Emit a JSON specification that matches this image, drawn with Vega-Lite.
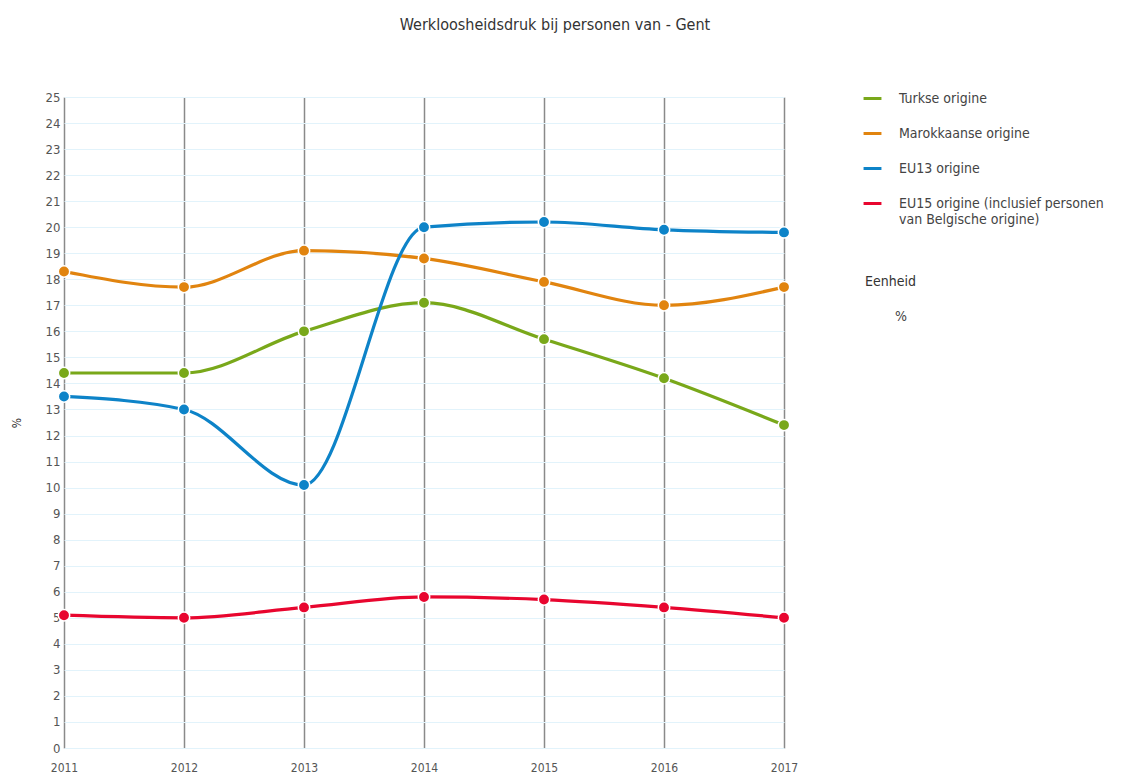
{
  "$schema": "https://vega.github.io/schema/vega-lite/v6.json",
  "width": 720,
  "height": 651,
  "autosize": "none",
  "padding": {"left": 64, "top": 97, "right": 344, "bottom": 27},
  "background": "white",
  "title": {
    "text": "Werkloosheidsdruk bij personen van - Gent",
    "font": "DejaVu Sans Condensed, Roboto, sans-serif",
    "fontSize": 16,
    "fontWeight": "normal",
    "color": "#333333",
    "anchor": "middle",
    "dx": 131,
    "offset": 55
  },
  "config": {
    "view": {"stroke": null},
    "font": "DejaVu Sans Condensed, Roboto, sans-serif",
    "axis": {"labelFont": "DejaVu Sans Condensed, Roboto, sans-serif", "labelColor": "#555555", "titleFont": "DejaVu Sans Condensed, Roboto, sans-serif"},
    "legend": {"labelFont": "DejaVu Sans Condensed, Roboto, sans-serif", "titleFont": "DejaVu Sans Condensed, Roboto, sans-serif"}
  },
  "data": {
    "values": [
      {"jaar": 2011, "reeks": "Turkse origine", "waarde": 14.4, "eenheid": "%"},
      {"jaar": 2012, "reeks": "Turkse origine", "waarde": 14.4, "eenheid": "%"},
      {"jaar": 2013, "reeks": "Turkse origine", "waarde": 16.0, "eenheid": "%"},
      {"jaar": 2014, "reeks": "Turkse origine", "waarde": 17.1, "eenheid": "%"},
      {"jaar": 2015, "reeks": "Turkse origine", "waarde": 15.7, "eenheid": "%"},
      {"jaar": 2016, "reeks": "Turkse origine", "waarde": 14.2, "eenheid": "%"},
      {"jaar": 2017, "reeks": "Turkse origine", "waarde": 12.4, "eenheid": "%"},
      {"jaar": 2011, "reeks": "Marokkaanse origine", "waarde": 18.3, "eenheid": "%"},
      {"jaar": 2012, "reeks": "Marokkaanse origine", "waarde": 17.7, "eenheid": "%"},
      {"jaar": 2013, "reeks": "Marokkaanse origine", "waarde": 19.1, "eenheid": "%"},
      {"jaar": 2014, "reeks": "Marokkaanse origine", "waarde": 18.8, "eenheid": "%"},
      {"jaar": 2015, "reeks": "Marokkaanse origine", "waarde": 17.9, "eenheid": "%"},
      {"jaar": 2016, "reeks": "Marokkaanse origine", "waarde": 17.0, "eenheid": "%"},
      {"jaar": 2017, "reeks": "Marokkaanse origine", "waarde": 17.7, "eenheid": "%"},
      {"jaar": 2011, "reeks": "EU13 origine", "waarde": 13.5, "eenheid": "%"},
      {"jaar": 2012, "reeks": "EU13 origine", "waarde": 13.0, "eenheid": "%"},
      {"jaar": 2013, "reeks": "EU13 origine", "waarde": 10.1, "eenheid": "%"},
      {"jaar": 2014, "reeks": "EU13 origine", "waarde": 20.0, "eenheid": "%"},
      {"jaar": 2015, "reeks": "EU13 origine", "waarde": 20.2, "eenheid": "%"},
      {"jaar": 2016, "reeks": "EU13 origine", "waarde": 19.9, "eenheid": "%"},
      {"jaar": 2017, "reeks": "EU13 origine", "waarde": 19.8, "eenheid": "%"},
      {"jaar": 2011, "reeks": "EU15 origine (inclusief personen van Belgische origine)", "waarde": 5.1, "eenheid": "%"},
      {"jaar": 2012, "reeks": "EU15 origine (inclusief personen van Belgische origine)", "waarde": 5.0, "eenheid": "%"},
      {"jaar": 2013, "reeks": "EU15 origine (inclusief personen van Belgische origine)", "waarde": 5.4, "eenheid": "%"},
      {"jaar": 2014, "reeks": "EU15 origine (inclusief personen van Belgische origine)", "waarde": 5.8, "eenheid": "%"},
      {"jaar": 2015, "reeks": "EU15 origine (inclusief personen van Belgische origine)", "waarde": 5.7, "eenheid": "%"},
      {"jaar": 2016, "reeks": "EU15 origine (inclusief personen van Belgische origine)", "waarde": 5.4, "eenheid": "%"},
      {"jaar": 2017, "reeks": "EU15 origine (inclusief personen van Belgische origine)", "waarde": 5.0, "eenheid": "%"}
    ]
  },
  "encoding": {
    "x": {
      "field": "jaar",
      "type": "quantitative",
      "scale": {"domain": [2011, 2017], "nice": false, "zero": false},
      "axis": {
        "title": null,
        "values": [2011, 2012, 2013, 2014, 2015, 2016, 2017],
        "format": "d",
        "grid": true,
        "gridColor": "#8a8a8a",
        "gridWidth": 1.5,
        "gridOpacity": 1,
        "domain": false,
        "ticks": false,
        "labelFontSize": 12,
        "labelPadding": 14,
        "labelFlush": false
      }
    },
    "y": {
      "field": "waarde",
      "type": "quantitative",
      "scale": {"domain": [0, 25], "nice": false},
      "axis": {
        "title": "%",
        "titleFontSize": 12,
        "titleFontWeight": "normal",
        "titleColor": "#333333",
        "titlePadding": 22,
        "values": [0,1,2,3,4,5,6,7,8,9,10,11,12,13,14,15,16,17,18,19,20,21,22,23,24,25],
        "grid": true,
        "gridColor": "#e2f3fb",
        "gridWidth": 1.2,
        "domain": false,
        "ticks": false,
        "labelFontSize": 13,
        "labelPadding": 4
      }
    },
    "color": {
      "field": "reeks",
      "type": "nominal",
      "scale": {
        "domain": ["Turkse origine", "Marokkaanse origine", "EU13 origine", "EU15 origine (inclusief personen van Belgische origine)"],
        "range": ["#79a81a", "#e1840f", "#0d83c8", "#e8062f"]
      },
      "legend": {
        "title": null,
        "orient": "none",
        "legendX": 798,
        "legendY": -9,
        "symbolType": "stroke",
        "symbolStrokeWidth": 3,
        "symbolSize": 320,
        "labelFontSize": 14,
        "labelColor": "#444444",
        "labelOffset": 16,
        "rowPadding": 17,
        "labelLimit": 300,
        "labelExpr": "datum.label == 'EU15 origine (inclusief personen van Belgische origine)' ? ['EU15 origine (inclusief personen', '\u00a0', 'van Belgische origine)'] : datum.label"
      }
    }
  },
  "layer": [
    {
      "mark": {"type": "line", "interpolate": "monotone", "strokeWidth": 3.2}
    },
    {
      "mark": {"type": "point", "filled": true, "size": 130, "stroke": "white", "strokeWidth": 1.5, "opacity": 1},
      "encoding": {
        "shape": {
          "field": "eenheid",
          "type": "nominal",
          "scale": {"range": ["circle"]},
          "legend": {
            "title": "Eenheid",
            "orient": "none",
            "legendX": 801,
            "legendY": 178,
            "titleFontSize": 14,
            "titleFontWeight": "normal",
            "titleColor": "#333333",
            "titlePadding": 21,
            "symbolOpacity": 0,
            "symbolStrokeWidth": 0,
            "labelFontSize": 14,
            "labelColor": "#444444",
            "labelOffset": 16
          }
        }
      }
    }
  ]
}
